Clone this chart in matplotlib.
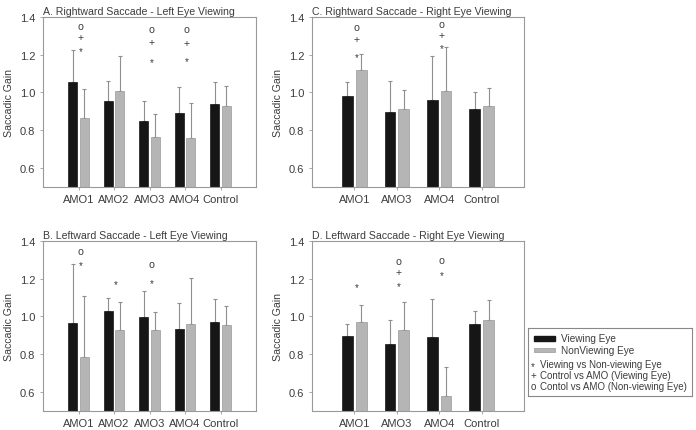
import matplotlib
matplotlib.use("Agg")
import matplotlib.pyplot as plt
from matplotlib.patches import Rectangle
import numpy as np

plt.rcParams['font.family'] = ['Liberation Sans', 'DejaVu Sans']

# panel A - rightward saccade, left eye viewing
catsA = ["AMO1", "AMO2", "AMO3", "AMO4", "Control"]
viewA = [1.053, 0.954, 0.847, 0.890, 0.938]
viewA_sd = [0.171, 0.108, 0.105, 0.138, 0.117]
nonA = [0.865, 1.009, 0.762, 0.755, 0.929]
nonA_sd = [0.151, 0.183, 0.121, 0.188, 0.107]
symA = [(0, 'o', 1.352), (0, '+', 1.295), (0, '*', 1.236),
        (2, 'o', 1.338), (2, '+', 1.268), (2, '*', 1.180),
        (3, 'o', 1.334), (3, '+', 1.260), (3, '*', 1.187)]

# panel B - leftward saccade, left eye viewing
catsB = ["AMO1", "AMO2", "AMO3", "AMO4", "Control"]
viewB = [0.964, 1.027, 0.996, 0.932, 0.970]
viewB_sd = [0.313, 0.071, 0.136, 0.139, 0.124]
nonB = [0.783, 0.925, 0.927, 0.957, 0.952]
nonB_sd = [0.327, 0.150, 0.096, 0.246, 0.105]
symB = [(0, 'o', 1.345), (0, '*', 1.290), (1, '*', 1.190),
        (2, 'o', 1.276), (2, '*', 1.197)]

# panel C - rightward saccade, right eye viewing
catsC = ["AMO1", "AMO3", "AMO4", "Control"]
viewC = [0.979, 0.897, 0.961, 0.909]
viewC_sd = [0.076, 0.163, 0.231, 0.093]
nonC = [1.116, 0.911, 1.007, 0.925]
nonC_sd = [0.090, 0.101, 0.235, 0.100]
symC = [(0, 'o', 1.348), (0, '+', 1.281), (0, '*', 1.206),
        (2, 'o', 1.364), (2, '+', 1.306), (2, '*', 1.252)]

# panel D - leftward saccade, right eye viewing
catsD = ["AMO1", "AMO3", "AMO4", "Control"]
viewD = [0.895, 0.854, 0.890, 0.957]
viewD_sd = [0.062, 0.128, 0.202, 0.073]
nonD = [0.970, 0.929, 0.579, 0.982]
nonD_sd = [0.092, 0.147, 0.151, 0.107]
symD = [(0, '*', 1.174), (1, 'o', 1.295), (1, '+', 1.235), (1, '*', 1.178),
        (2, 'o', 1.297), (2, '*', 1.235)]

yticks = [0.6, 0.8, 1.0, 1.2, 1.4]

BLACK = '#161616'
GRAY = '#b5b5b5'
ERR = '#8f8f8f'
SPINE = '#9a9a9a'
TXT = '#3c3c3c'

W, H = 696, 431
fig = plt.figure(figsize=(W / 100, H / 100), dpi=100)


def px_axes(x0, y0, x1, y1):
    return fig.add_axes([x0 / W, 1 - y1 / H, (x1 - x0) / W, (y1 - y0) / H])


def panel(ax, title, cats, view, view_sd, non, non_sd, syms):
    x = np.arange(len(cats))
    w = 0.25
    off = 0.165
    ax.bar(x - off, view, w, color=BLACK, edgecolor=BLACK, linewidth=0.5, zorder=2)
    ax.bar(x + off, non, w, color=GRAY, edgecolor='#999999', linewidth=0.5, zorder=2)
    # upper error bars only
    ax.errorbar(x - off, view, yerr=[np.zeros(len(x)), view_sd], fmt='none',
                ecolor=ERR, elinewidth=0.8, capsize=1.6, capthick=0.8, zorder=1)
    ax.errorbar(x + off, non, yerr=[np.zeros(len(x)), non_sd], fmt='none',
                ecolor=ERR, elinewidth=0.8, capsize=1.6, capthick=0.8, zorder=1)
    for i, s, y in syms:
        dy = -2.5 if s == '*' else 0
        ax.annotate(s, (i + 0.05, y), xytext=(0, dy), textcoords='offset points',
                    ha='center', va='center', fontsize=7.6 if s != '*' else 7,
                    color=TXT)
    ax.set_xlim(-1, len(cats))
    ax.set_ylim(0.5, 1.4)
    ax.set_xticks(x)
    ax.set_xticklabels(cats)
    ax.set_yticks(yticks)
    ax.set_yticklabels(["%.1f" % t for t in yticks])
    ax.tick_params(axis='both', labelsize=8, colors=SPINE, labelcolor=TXT,
                   length=2.5, width=0.6, pad=3)
    for sp in ax.spines.values():
        sp.set_color(SPINE)
        sp.set_linewidth(0.8)
    ax.set_ylabel("Saccadic Gain", fontsize=7.6, color=TXT, labelpad=4)
    ax.set_title(title, loc='left', fontsize=7.6, color=TXT, pad=2.5)


axA = px_axes(43, 18, 256, 187.5)
axC = px_axes(312, 18, 524, 187.5)
axB = px_axes(43, 242, 256, 411.5)
axD = px_axes(312, 242, 524, 411.5)

panel(axA, "A. Rightward Saccade - Left Eye Viewing", catsA, viewA, viewA_sd, nonA, nonA_sd, symA)
panel(axC, "C. Rightward Saccade - Right Eye Viewing", catsC, viewC, viewC_sd, nonC, nonC_sd, symC)
panel(axB, "B. Leftward Saccade - Left Eye Viewing", catsB, viewB, viewB_sd, nonB, nonB_sd, symB)
panel(axD, "D. Leftward Saccade - Right Eye Viewing", catsD, viewD, viewD_sd, nonD, nonD_sd, symD)

# legend box drawn by hand (mixed patch / symbol entries)
lg = px_axes(528, 329, 692, 397)
lg.set_xlim(528, 692)
lg.set_ylim(397, 329)
lg.set_xticks([])
lg.set_yticks([])
for sp in lg.spines.values():
    sp.set_color('#888888')
    sp.set_linewidth(0.8)
lg.add_patch(Rectangle((534, 337), 20.5, 4.5, color=BLACK))
lg.add_patch(Rectangle((534, 348.5), 20.5, 4.0, facecolor=GRAY, edgecolor='#999999', linewidth=0.5))
lg.text(561, 339.5, "Viewing Eye", fontsize=7.2, va='center', color=TXT)
lg.text(561, 351, "NonViewing Eye", fontsize=7.2, va='center', color=TXT)
legend_rows = [('*', "Viewing vs Non-viewing Eye", 365.5),
               ('+', "Control vs AMO (Viewing Eye)", 376),
               ('o', "Contol vs AMO (Non-viewing Eye)", 387)]
for s, label, yy in legend_rows:
    lg.text(533, yy + (2 if s == '*' else 0), s, fontsize=7, va='center', ha='center', color=TXT)
    lg.text(540, yy, label, fontsize=7, va='center', color=TXT)

fig.savefig("out.png", dpi=100)
